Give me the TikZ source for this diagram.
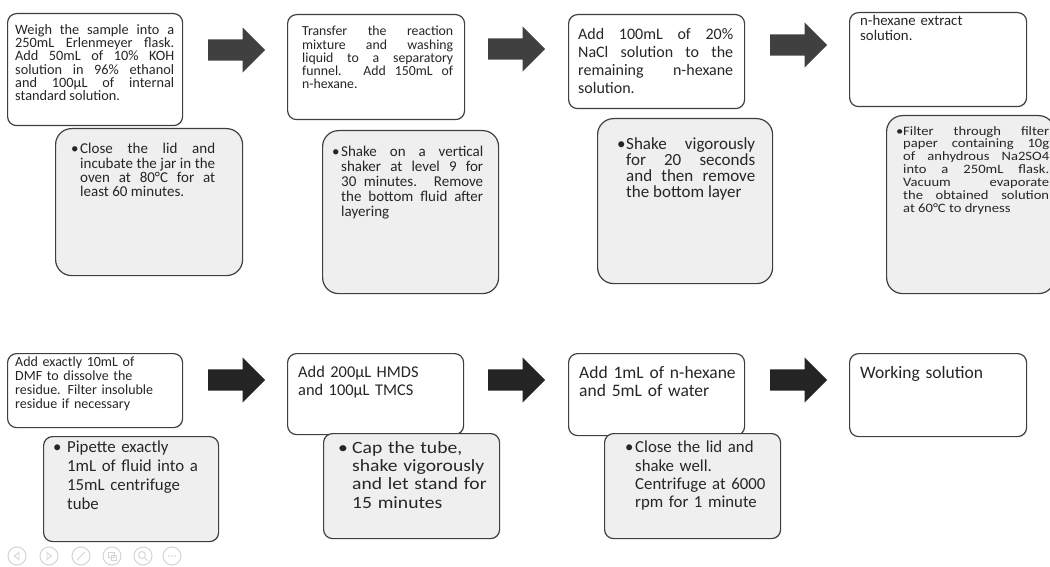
\documentclass[tikz,border=0pt]{standalone}
\usepackage{fontspec}
\setmainfont{Carlito}
\newfontfamily\widefont{Carlito}[FakeStretch=1.14]
\usetikzlibrary{shapes.arrows}
\definecolor{boxline}{HTML}{3F3F3F}
\definecolor{notefill}{HTML}{EFEFEF}
\definecolor{txt}{HTML}{262626}
\definecolor{arrowtop}{HTML}{404040}
\definecolor{arrowbot}{HTML}{242424}
\definecolor{icongray}{HTML}{D4D4D4}
\newcommand{\fsz}[2]{\fontsize{#1pt}{#2pt}\selectfont}
\newcommand{\bitem}[2]{\noindent\hangindent=#1pt\hangafter=1\makebox[#1pt][l]{\textbullet}#2\par}
\hbadness=10000
\hyphenpenalty=10000
\exhyphenpenalty=10000
\tikzset{
  stepbox/.style 2 args={draw=boxline, line width=1.2pt, fill=white, rounded corners=9pt,
    anchor=north west, inner sep=0pt, minimum width=#1pt, minimum height=#2pt},
  notebox/.style 2 args={stepbox={#1}{#2}, fill=notefill},
  steptext/.style 2 args={anchor=north west, inner sep=0pt, text=txt, text width=#1pt,
    align=justify, font=#2},
  flowarrow/.style={single arrow, draw=none, anchor=tail, inner sep=0pt,
    text height=10.5pt, text depth=10.5pt, minimum height=57pt, single arrow head extend=12pt},
  icon/.style={circle, draw=icongray, line width=1pt, minimum size=18pt, inner sep=0pt},
  iconline/.style={draw=icongray, line width=0.9pt}
}
\begin{document}
\begin{tikzpicture}[x=1pt,y=-1pt]
\useasboundingbox (0,0) rectangle (1050,567);

% top row
\node[stepbox={175}{112}] (a1) at (7,13) {};
\node[steptext={159}{\fsz{14.3}{13.3}}] (a1t) at ([shift={(8,11)}]a1.north west)
  {Weigh the sample into a\linebreak 250mL Erlenmeyer flask.\linebreak Add 50mL of 10\% KOH\linebreak
   solution in 96\% ethanol\linebreak and 100µL of internal\linebreak standard solution.};
\node[notebox={187}{147}, rounded corners=16pt] (b1) at (55,128) {};
\node[steptext={144}{\fsz{15}{14.4}}] (b1t) at ([shift={(16,15)}]b1.north west)
  {\bitem{9}{Close the lid and\linebreak incubate the jar in the\linebreak oven at 80°C for at\linebreak least 60 minutes.}};

\node[stepbox={177}{105}] (a2) at (287,14) {};
\node[steptext={151}{\fsz{13.8}{13.3}}] (a2t) at ([shift={(15,12)}]a2.north west)
  {Transfer the reaction\linebreak mixture and washing\linebreak liquid to a separatory\linebreak
   funnel. Add 150mL of\linebreak n-hexane.};
\node[notebox={176}{163}, rounded corners=16pt] (b2) at (322,130) {};
\node[steptext={151}{\fsz{15}{15}}] (b2t) at ([shift={(10,16)}]b2.north west)
  {\bitem{9}{Shake on a vertical\linebreak shaker at level 9 for\linebreak 30 minutes. Remove\linebreak
   the bottom fluid after\linebreak layering}};

\node[stepbox={176}{94}] (a3) at (568,14) {};
\node[steptext={155}{\fsz{16}{18}}] (a3t) at ([shift={(10,14)}]a3.north west)
  {Add 100mL of 20\%\linebreak NaCl solution to the\linebreak remaining n-hexane\linebreak solution.};
\node[notebox={175}{165}, rounded corners=16pt] (b3) at (597,118) {};
\node[steptext={138}{\fsz{17}{16.3}}] (b3t) at ([shift={(20,19)}]b3.north west)
  {\bitem{9}{Shake vigorously\linebreak for 20 seconds\linebreak and then remove\linebreak the bottom layer}};

\node[stepbox={177}{94}] (a4) at (849,12) {};
\node[steptext={160}{\fsz{14.8}{15}}, align=left] (a4t) at ([shift={(11,3)}]a4.north west)
  {n-hexane extract\\ solution.};
\node[notebox={168}{178}, rounded corners=16pt] (b4) at (886,115) {};
\node[steptext={153}{\widefont\fsz{12.8}{12.9}}] (b4t) at ([shift={(10,11)}]b4.north west)
  {\bitem{7}{Filter through filter\linebreak paper containing 10g\linebreak of anhydrous Na2SO4\linebreak
   into a 250mL flask.\linebreak Vacuum evaporate\linebreak the obtained solution\linebreak at 60°C to dryness}};

\foreach \x/\y [count=\n] in {208/50, 488/49, 770/45}
  \node[flowarrow, fill=arrowtop] (ta\n) at (\x,\y) {};

% bottom row
\node[stepbox={175}{74}] (c1) at (7,353) {};
\node[steptext={165}{\fsz{14}{14}}, align=left] (c1t) at ([shift={(8,4)}]c1.north west)
  {Add exactly 10mL of\\ DMF to dissolve the\\ residue. Filter insoluble\\ residue if necessary};
\node[notebox={175}{105}] (d1) at (43,436) {};
\node[steptext={160}{\fsz{16.8}{19}}, align=left] (d1t) at ([shift={(10,5)}]d1.north west)
  {\bitem{14}{Pipette exactly\newline 1mL of fluid into a\newline 15mL centrifuge\newline tube}};

\node[stepbox={176}{81}] (c2) at (287,353) {};
\node[steptext={160}{\fsz{16.4}{18}}, align=left] (c2t) at ([shift={(11,13)}]c2.north west)
  {Add 200µL HMDS\\ and 100µL TMCS};
\node[notebox={176}{105}] (d2) at (323,433) {};
\node[steptext={160}{\widefont\fsz{17.2}{18.3}}, align=left] (d2t) at ([shift={(15,8)}]d2.north west)
  {\bitem{14}{Cap the tube,\newline shake vigorously\newline and let stand for\newline 15 minutes}};

\node[stepbox={176}{82}] (c3) at (568,353) {};
\node[steptext={160}{\fsz{17.5}{18}}, align=left] (c3t) at ([shift={(11,13)}]c3.north west)
  {Add 1mL of n-hexane\\ and 5mL of water};
\node[notebox={176}{105}] (d3) at (604,433) {};
\node[steptext={150}{\fsz{16.8}{18.3}}, align=left] (d3t) at ([shift={(21,8)}]d3.north west)
  {\bitem{10}{Close the lid and\newline shake well.\newline Centrifuge at 6000\newline rpm for 1 minute}};

\node[stepbox={177}{83}] (c4) at (849,353) {};
\node[steptext={160}{\fsz{17.5}{18}}, align=left] (c4t) at ([shift={(11,13)}]c4.north west)
  {Working solution};

\foreach \x [count=\n] in {208, 488, 770}
  \node[flowarrow, fill=arrowbot] (ba\n) at (\x,380) {};

% slide controls
\foreach \x [count=\k] in {17,49,81,112,143,172}
  \node[icon] (ico\k) at (\x,556) {};
\draw[iconline] ([shift={(2,-3.5)}]ico1.center) -- ++(-4.5,3.5) -- ++(4.5,3.5) -- cycle;
\draw[iconline] ([shift={(-2,-3.5)}]ico2.center) -- ++(4.5,3.5) -- ++(-4.5,3.5) -- cycle;
\draw[iconline] ([shift={(-4,4)}]ico3.center) -- ([shift={(4,-4)}]ico3.center);
\draw[iconline] ([shift={(-4,-4)}]ico4.center) rectangle ([shift={(2,1)}]ico4.center);
\draw[iconline] ([shift={(-1,-1)}]ico4.center) rectangle ([shift={(4,4)}]ico4.center);
\draw[iconline] ([shift={(-1,-1)}]ico5.center) circle (3.5);
\draw[iconline] ([shift={(1.5,1.5)}]ico5.center) -- ([shift={(4.5,4.5)}]ico5.center);
\foreach \d in {-3,0,3}
  \fill[icongray] ([shift={(\d,0)}]ico6.center) circle (0.9);
\end{tikzpicture}
\end{document}
